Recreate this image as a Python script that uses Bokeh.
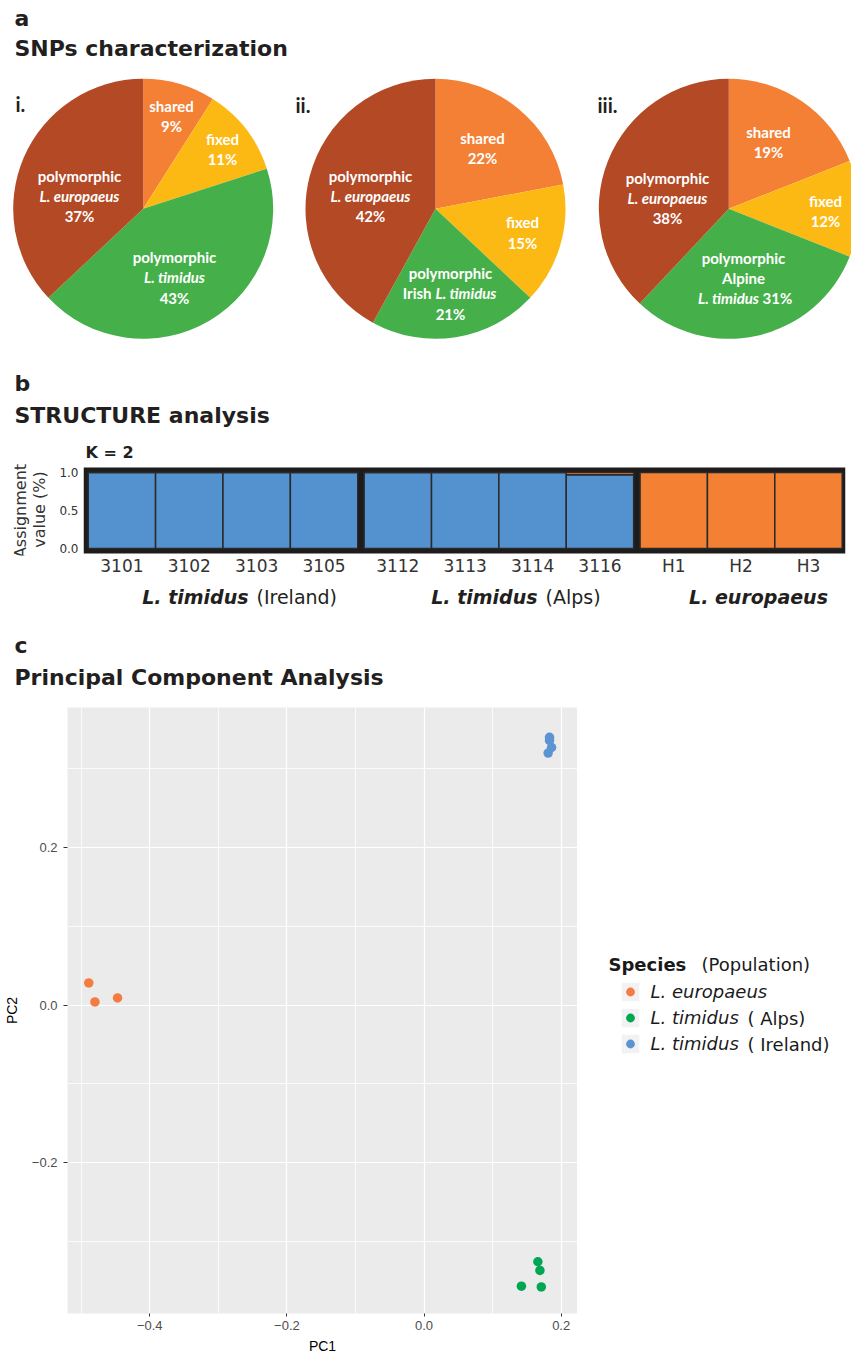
import numpy as np
from bokeh.plotting import figure
from bokeh.models import Range1d, FixedTicker, Legend, LegendItem
from bokeh.layouts import row
from bokeh.embed import file_html
from bokeh.resources import INLINE
from bokeh.core.properties import value

# ---------------- data ----------------
# a: SNP characterization pies (clockwise from 12 o'clock)
slice_names = ["shared", "fixed", "polymorphic L. timidus", "polymorphic L. europaeus"]
pie_i_pct = [9, 11, 43, 37]
pie_ii_pct = [22, 15, 21, 42]
pie_iii_pct = [19, 12, 31, 38]
slice_colors = ["#F38035", "#FDB913", "#45B04A", "#B34925"]

# b: STRUCTURE (K = 2)
individuals = ["3101", "3102", "3103", "3105", "3112", "3113", "3114", "3116", "H1", "H2", "H3"]
membership = [0, 0, 0, 0, 1, 1, 1, 1, 2, 2, 2]
group_species = ["L. timidus", "L. timidus", "L. europaeus"]
group_region = ["(Ireland)", "(Alps)", ""]
q_cluster1 = [1.0, 1.0, 1.0, 1.0, 1.0, 1.0, 1.0, 0.97, 0.0, 0.0, 0.0]
q_cluster2 = [0.0, 0.0, 0.0, 0.0, 0.0, 0.0, 0.0, 0.03, 1.0, 1.0, 1.0]
cluster_colors = ["#5391CF", "#F38033"]
assign_ticks = [0.0, 0.5, 1.0]
assign_tick_labels = ["0.0", "0.5", "1.0"]

# c: PCA
pca_species = ["L. europaeus", "L. timidus", "L. timidus"]
pca_population = ["", "( Alps)", "( Ireland)"]
pc1_europaeus = [-0.489, -0.480, -0.447]
pc2_europaeus = [0.028, 0.004, 0.009]
pc1_alps = [0.166, 0.169, 0.142, 0.171]
pc2_alps = [-0.326, -0.337, -0.357, -0.358]
pc1_ireland = [0.183, 0.183, 0.186, 0.181]
pc2_ireland = [0.340, 0.336, 0.327, 0.320]
pca_colors = ["#F47C40", "#00A651", "#5B93D3"]
pc1_ticks = [-0.4, -0.2, 0.0, 0.2]
pc1_tick_labels = ["\u22120.4", "\u22120.2", "0.0", "0.2"]
pc2_ticks = [-0.2, 0.0, 0.2]
pc2_tick_labels = ["\u22120.2", "0.0", "0.2"]

# ---------------- layout constants ----------------
W = 851
DARK = "#231F20"
HEAD_FONT = "DejaVu Sans"


def text_fig(width, height, x0, top, **borders):
    """A blank figure whose data coordinates equal page pixels (y pointing down)."""
    bt = borders.get("min_border_top", 0)
    bb = borders.get("min_border_bottom", 0)
    f = figure(width=width, height=height,
               x_range=Range1d(x0, x0 + width),
               y_range=Range1d(top + height - bb, top + bt),
               x_axis_type=None, y_axis_type=None, output_backend="svg",
               toolbar_location=None, min_border=0, **borders)
    f.outline_line_color = None
    f.grid.visible = False
    return f


def put(f, x, y, t, size, style="bold", align="left", color=DARK, font=HEAD_FONT, angle=0.0):
    f.text(x=[x], y=[y], text=[t], text_font=value(font), text_font_size=size,
           text_font_style=style, text_color=color, text_align=align, text_baseline="middle",
           angle=angle)


# ================= top band: pies (a) + heading of b =================
H1 = 462
pf = figure(width=W, height=H1, x_range=Range1d(0, W), y_range=Range1d(0, H1),
            x_axis_type=None, y_axis_type=None, output_backend="svg",
            toolbar_location=None, min_border=0)
pf.outline_line_color = None
pf.grid.visible = False


def py1(y):
    return H1 - y


def ptext(x, y, t, italic=False, align="center", size="15px", color="white", font="Lato"):
    pf.text(x=[x], y=[py1(y)], text=[t], text_font=value(font), text_font_size=size,
            text_font_style="bold italic" if italic else "bold", text_color=color,
            text_align=align, text_baseline="middle")


R = 130
centers = [(142.7, 208.3), (435.0, 208.3), (728.3, 208.3)]
for (cx, cy), pcts in zip(centers, [pie_i_pct, pie_ii_pct, pie_iii_pct]):
    frac = np.array(pcts, dtype=float) / sum(pcts)
    cum = np.concatenate([[0.0], np.cumsum(frac)])
    start = np.pi / 2 - 2 * np.pi * cum[1:]
    end = np.pi / 2 - 2 * np.pi * cum[:-1]
    pf.wedge(x=cx, y=py1(cy), radius=R, start_angle=list(start), end_angle=list(end),
             fill_color=slice_colors, line_color=None)

# headings
ptext(14, 17.5, "a", align="left", size="22px", color=DARK, font=HEAD_FONT)
ptext(14, 48, "SNPs characterization", align="left", size="22px", color=DARK, font=HEAD_FONT)
ptext(15, 103.5, "i.", align="left", size="20px", color=DARK)
ptext(295, 104, "ii.", align="left", size="20px", color=DARK)
ptext(597, 104, "iii.", align="left", size="20px", color=DARK)

# pie i labels
ptext(171, 105, "shared"); ptext(171, 125, f"{pie_i_pct[0]}%")
ptext(222, 138.5, "fixed"); ptext(222, 158, f"{pie_i_pct[1]}%")
ptext(174, 256, "polymorphic"); ptext(174, 276, "L. timidus", italic=True); ptext(174, 297, f"{pie_i_pct[2]}%")
ptext(79, 175, "polymorphic"); ptext(79, 195, "L. europaeus", italic=True); ptext(79, 215, f"{pie_i_pct[3]}%")
# pie ii labels
ptext(482, 137, "shared"); ptext(482, 157, f"{pie_ii_pct[0]}%")
ptext(522, 221, "fixed"); ptext(522, 242, f"{pie_ii_pct[1]}%")
ptext(450, 272, "polymorphic"); ptext(431, 292, "Irish", align="right")
ptext(435, 292, "L. timidus", italic=True, align="left"); ptext(450, 313, f"{pie_ii_pct[2]}%")
ptext(370, 175, "polymorphic"); ptext(370, 195, "L. europaeus", italic=True); ptext(370, 215, f"{pie_ii_pct[3]}%")
# pie iii labels
ptext(768, 131, "shared"); ptext(768, 151, f"{pie_iii_pct[0]}%")
ptext(825, 200, "fixed"); ptext(825, 220, f"{pie_iii_pct[1]}%")
ptext(743, 257, "polymorphic"); ptext(743, 277, "Alpine")
ptext(758.5, 297, "L. timidus", italic=True, align="right"); ptext(762, 297, f"{pie_iii_pct[2]}%", align="left")
ptext(667, 177, "polymorphic"); ptext(667, 197, "L. europaeus", italic=True); ptext(667, 217, f"{pie_iii_pct[3]}%")

# heading of panel b
ptext(14, 383, "b", align="left", size="22px", color=DARK, font=HEAD_FONT)
ptext(14, 415, "STRUCTURE analysis", align="left", size="22px", color=DARK, font=HEAD_FONT)
ptext(85, 452.3, "K = 2", align="left", size="16px", color=DARK, font=HEAD_FONT)

# ================= STRUCTURE band (page y 462 .. 580) =================
H2 = 118
LABW = 56                     # width of the y-title strip on the left
# frame: page x 82..845, page y 462..555 ; bars: 0 at y=548, 1 at y=472
PX_PER_Y = 76.0
Y1 = 1 + (472 - 462) / PX_PER_Y
Y0 = -(555 - 548) / PX_PER_Y
X0, X1 = -0.0697, 11.239
BOX_Y0, BOX_Y1 = -5 / PX_PER_Y, 1 + 5 / PX_PER_Y   # black frame around the bars

sf = figure(width=W - LABW, height=H2, x_range=Range1d(X0, X1), y_range=Range1d(Y0, Y1),
            output_backend="svg", toolbar_location=None,
            min_border_left=82 - LABW, min_border_right=6, min_border_top=0, min_border_bottom=25)
sf.outline_line_color = None
sf.grid.visible = False
sf.quad(left=X0, right=X1, bottom=BOX_Y0, top=BOX_Y1, fill_color="#1E1B1C", line_color=None)

GAP = 0.095
left = np.arange(len(individuals)) + GAP * np.array(membership)
q1 = np.array(q_cluster1)
q2 = np.array(q_cluster2)
sf.quad(left=left, right=left + 1, bottom=0, top=q1, fill_color=cluster_colors[0],
        line_color="#2A2A2A", line_width=1.5)
sf.quad(left=left, right=left + 1, bottom=q1, top=q1 + q2, fill_color=cluster_colors[1],
        line_color="#2A2A2A", line_width=1.5)

centers_b = [round(float(l) + 0.5, 4) for l in left]
sf.xaxis.ticker = FixedTicker(ticks=centers_b)
sf.xaxis.major_label_overrides = {c: n for c, n in zip(centers_b, individuals)}
sf.xaxis.major_label_text_font = "DejaVu Sans"
sf.xaxis.major_label_text_font_size = "17px"
sf.xaxis.major_label_text_color = "#333333"
sf.xaxis.major_label_standoff = 0
sf.yaxis.ticker = FixedTicker(ticks=assign_ticks)
sf.yaxis.major_label_overrides = dict(zip(assign_ticks, assign_tick_labels))
sf.yaxis.major_label_text_font = "DejaVu Sans"
sf.yaxis.major_label_text_font_size = "12px"
sf.yaxis.major_label_text_color = "#333333"
sf.yaxis.major_label_standoff = 5
for ax in [sf.xaxis, sf.yaxis]:
    ax.axis_line_color = None
    ax.major_tick_line_color = None
    ax.minor_tick_line_color = None
    ax.major_tick_out = 0
    ax.major_tick_in = 0

# y title strip (two rotated lines)
yl = text_fig(LABW, H2, 0, 462, min_border_bottom=25)
put(yl, 19.5, 510.5, "Assignment", "16px", "normal", align="center", color="#333333", angle=np.pi / 2)
put(yl, 39, 509, "value (%)", "16px", "normal", align="center", color="#333333", angle=np.pi / 2)

# ================= middle band: group labels + heading of c =================
mf = text_fig(W, 120, 0, 580)
put(mf, 248, 596, group_species[0], "19px", "bold italic", align="right")
put(mf, 256, 596, group_region[0], "19px", "normal")
put(mf, 537, 596, group_species[1], "19px", "bold italic", align="right")
put(mf, 545, 596, group_region[1], "19px", "normal")
put(mf, 758, 596, group_species[2], "19px", "bold italic", align="center")
put(mf, 14, 645, "c", "22px", "bold")
put(mf, 14, 677, "Principal Component Analysis", "22px", "bold")

# ================= PCA scatter =================
H3 = 661  # page y 700 .. 1361 ; frame 707 .. 1313
PX0, PX1 = -0.520, 0.2238
PY0, PY1 = -0.3917, 0.3778
cf = figure(width=577, height=H3, x_range=Range1d(PX0, PX1), y_range=Range1d(PY0, PY1),
            output_backend="svg", toolbar_location=None,
            min_border_left=67, min_border_right=0, min_border_top=7, min_border_bottom=48)
cf.background_fill_color = "#EBEBEB"
cf.outline_line_color = None

cf.xaxis.ticker = FixedTicker(ticks=pc1_ticks)
cf.xaxis.major_label_overrides = dict(zip(pc1_ticks, pc1_tick_labels))
cf.yaxis.ticker = FixedTicker(ticks=pc2_ticks)
cf.yaxis.major_label_overrides = dict(zip(pc2_ticks, pc2_tick_labels))
cf.xgrid.ticker = FixedTicker(ticks=pc1_ticks, minor_ticks=[-0.5, -0.3, -0.1, 0.1])
cf.ygrid.ticker = FixedTicker(ticks=pc2_ticks, minor_ticks=[-0.3, -0.1, 0.1, 0.3])
cf.grid.grid_line_color = "white"
cf.grid.grid_line_width = 1.2
cf.grid.minor_grid_line_color = "white"
cf.grid.minor_grid_line_width = 0.8
for ax in [cf.xaxis, cf.yaxis]:
    ax.axis_line_color = None
    ax.minor_tick_line_color = None
    ax.major_tick_line_color = "#333333"
    ax.major_tick_in = 0
    ax.major_label_text_font = "Liberation Sans"
    ax.major_label_text_font_size = "13px"
    ax.major_label_text_color = "#4D4D4D"
    ax.axis_label_text_font = "Liberation Sans"
    ax.axis_label_text_font_size = "14px"
    ax.axis_label_text_font_style = "normal"
    ax.axis_label_text_color = "black"
cf.xaxis.axis_label = "PC1"
cf.yaxis.axis_label = "PC2"
cf.xaxis.major_tick_out = 3
cf.xaxis.major_label_standoff = 4
cf.xaxis.axis_label_standoff = 5
cf.yaxis.major_tick_out = 4
cf.yaxis.major_label_standoff = 6
cf.yaxis.axis_label_standoff = 9

cf.scatter(pc1_europaeus, pc2_europaeus, size=9.5, fill_color=pca_colors[0], line_color=None)
cf.scatter(pc1_alps, pc2_alps, size=9.5, fill_color=pca_colors[1], line_color=None)
cf.scatter(pc1_ireland, pc2_ireland, size=9.5, fill_color=pca_colors[2], line_color=None)

# ================= legend of the PCA =================
lf = text_fig(W - 577, H3, 577, 700, min_border_top=7, min_border_bottom=48)
NA = [np.nan]  # legend-only renderers: one undrawable row so the legend can render its key
key_bg = lf.quad(left=NA, right=NA, top=NA, bottom=NA, fill_color="#F2F2F2", line_color=None)
keys = [lf.scatter(x=NA, y=NA, size=9.5, fill_color=c, line_color=None) for c in pca_colors]
items = [LegendItem(label=pca_species[i], renderers=[key_bg, k]) for i, k in enumerate(keys)]
legend = Legend(items=items, location=(41.5, 258), glyph_width=22, glyph_height=23,
                label_height=23, spacing=3, padding=0, margin=0, label_standoff=10,
                border_line_color=None, background_fill_alpha=0,
                label_text_font="DejaVu Sans", label_text_font_style="italic",
                label_text_font_size="18px", label_text_color="#1A1A1A")
lf.add_layout(legend)
put(lf, 608, 964, "Species", "18px", "bold", color="#1A1A1A")
put(lf, 701, 964, "(Population)", "18px", "normal", color="#1A1A1A")
put(lf, 747, 1017.5, pca_population[1], "18px", "normal", color="#1A1A1A")
put(lf, 747, 1043.5, pca_population[2], "18px", "normal", color="#1A1A1A")

# vertically stacked independent roots (no frame alignment between bands)
open("out.html", "w").write(file_html([pf, row(yl, sf), mf, row(cf, lf)], INLINE))
